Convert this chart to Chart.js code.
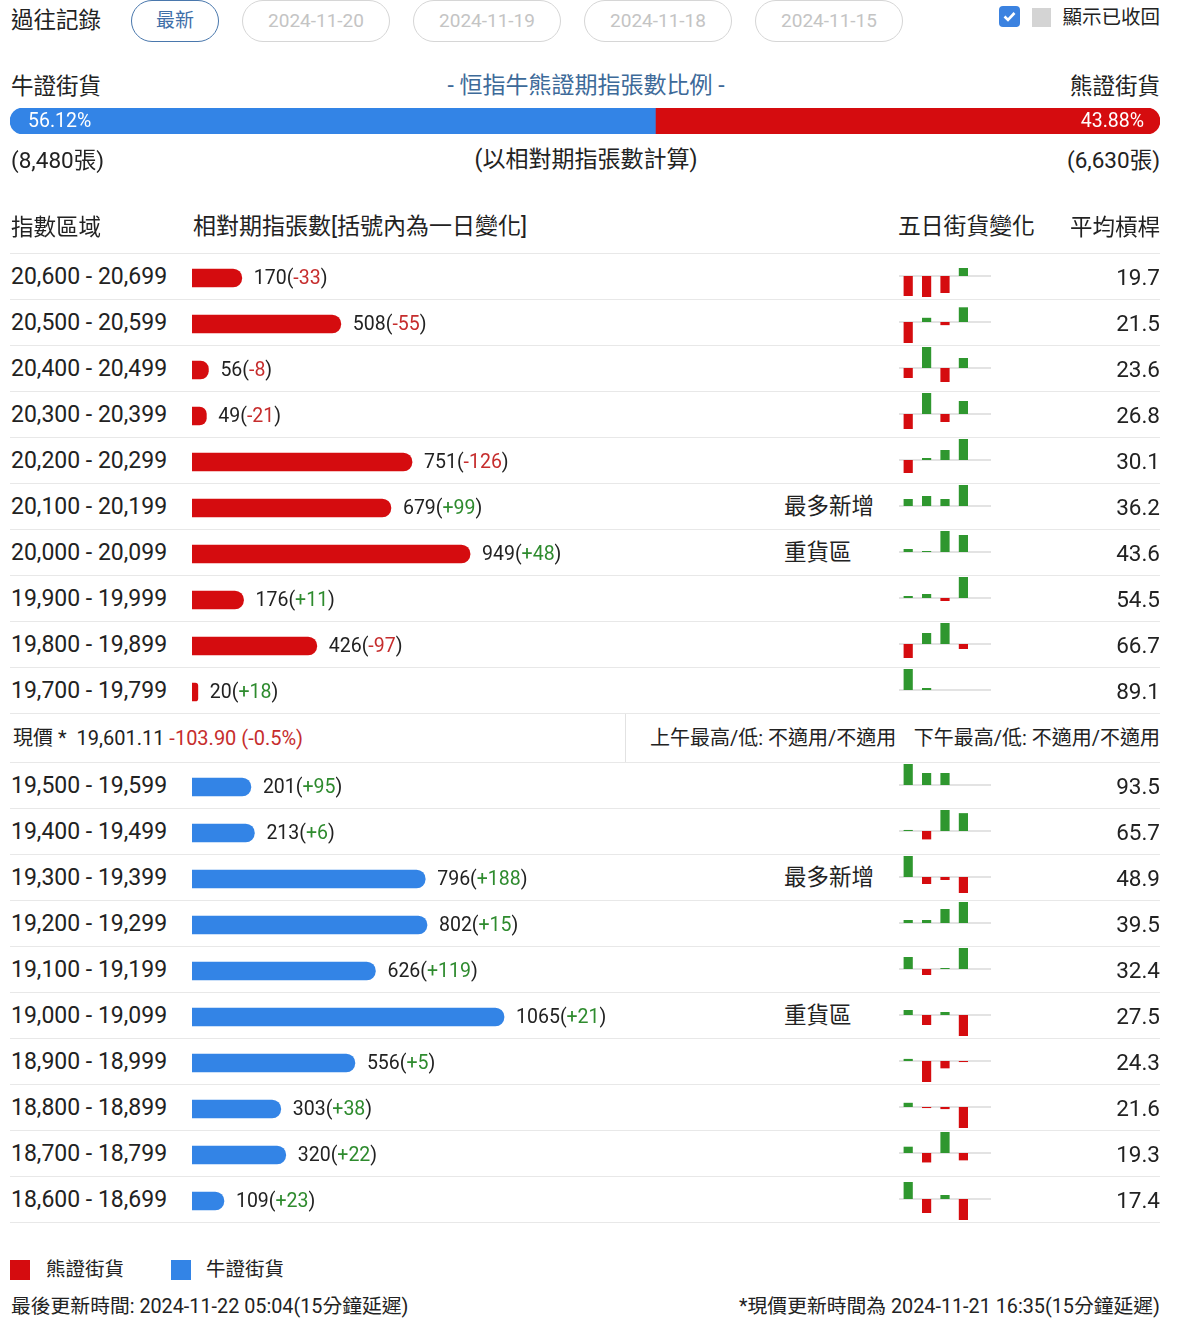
<!DOCTYPE html>
<html>
<head>
<meta charset="utf-8">
<title>恒指牛熊證街貨分佈</title>
<script src="https://cdn.jsdelivr.net/npm/chart.js@4.4.1/dist/chart.umd.min.js"></script>
<style>
body { margin: 0; background: #fff; font-family: Roboto, "Noto Sans CJK TC", sans-serif; color: #222; }
#page { position: relative; width: 1179px; height: 1330px; overflow: hidden; }
.t { position: absolute; white-space: nowrap; height: 30px; line-height: 30px; }
.r { text-align: right; }
.btn { position: absolute; top: 0; height: 40px; line-height: 40px; border: 1px solid #d6d6d6; border-radius: 21px;
       color: #c4c4c4; font-size: 19px; text-align: center; box-sizing: content-box; }
.btn.on { border-color: #4a78ad; color: #3f6fa8; }
.sep { position: absolute; left: 10px; width: 1150px; height: 1px; background: #e8e8e8; }
.red { color: #c62d2d; }
canvas { position: absolute; }
</style>
</head>
<body>
<div id="page">
  <div class="t" style="left:11px;top:5px;font-size:22.5px;">過往記錄</div>
  <div class="btn on" style="left:131px;width:86px;">最新</div>
  <div class="btn" style="left:242px;width:146px;">2024-11-20</div>
  <div class="btn" style="left:413px;width:146px;">2024-11-19</div>
  <div class="btn" style="left:584px;width:146px;">2024-11-18</div>
  <div class="btn" style="left:755px;width:146px;">2024-11-15</div>
  <div style="position:absolute;left:999px;top:6px;width:21px;height:21px;border-radius:4px;background:#3b82e0;">
    <svg width="21" height="21" viewBox="0 0 21 21"><path d="M5.5 10.5 L9 14 L15.5 7" fill="none" stroke="#fff" stroke-width="2.6"/></svg>
  </div>
  <div style="position:absolute;left:1032px;top:8px;width:19px;height:19px;background:#d4d4d4;"></div>
  <div class="t r" style="right:19px;top:3px;font-size:19.5px;">顯示已收回</div>

  <div class="t" style="left:11px;top:71px;font-size:22.5px;">牛證街貨</div>
  <div class="t" style="left:386px;width:400px;text-align:center;top:71px;font-size:23px;color:#3d6a99;">- 恒指牛熊證期指張數比例 -</div>
  <div class="t r" style="right:19px;top:71px;font-size:22.5px;">熊證街貨</div>

  <canvas id="ratioChart" width="1150" height="26" style="left:10px;top:108px;"></canvas>
  <div class="t" style="left:28px;top:106px;font-size:19.5px;color:#fff;">56.12%</div>
  <div class="t r" style="right:35px;top:106px;font-size:19.5px;color:#fff;">43.88%</div>

  <div class="t" style="left:11px;top:145px;font-size:22.5px;">(8,480張)</div>
  <div class="t" style="left:386px;width:400px;text-align:center;top:145px;font-size:23px;">(以相對期指張數計算)</div>
  <div class="t r" style="right:19px;top:145px;font-size:22.5px;">(6,630張)</div>

  <div class="t" style="left:11px;top:212px;font-size:22.5px;">指數區域</div>
  <div class="t" style="left:193px;top:212px;font-size:23px;">相對期指張數[括號內為一日變化]</div>
  <div class="t" style="left:898px;top:212px;font-size:22.8px;">五日街貨變化</div>
  <div class="t r" style="right:19px;top:212px;font-size:22.5px;">平均槓桿</div>

  <canvas id="bearChart" width="586" height="460" style="left:192px;top:255px;"></canvas>

  <div class="t" style="left:13px;top:723px;font-size:20px;">現價 *&nbsp; 19,601.11 <span class="red">-103.90 (-0.5%)</span></div>
  <div style="position:absolute;left:625px;top:713px;width:1px;height:49px;background:#e2e2e2;"></div>
  <div class="t" style="left:650px;top:723px;font-size:20px;">上午最高/低: 不適用/不適用</div>
  <div class="t r" style="right:19px;top:723px;font-size:20px;">下午最高/低: 不適用/不適用</div>

  <canvas id="bullChart" width="586" height="460" style="left:192px;top:764px;"></canvas>

  <div style="position:absolute;left:10px;top:1260px;width:20px;height:20px;background:#d50c0f;"></div>
  <div class="t" style="left:46px;top:1255px;font-size:19.5px;">熊證街貨</div>
  <div style="position:absolute;left:171px;top:1260px;width:20px;height:20px;background:#3384e6;"></div>
  <div class="t" style="left:206px;top:1255px;font-size:19.5px;">牛證街貨</div>

  <div class="t" style="left:11px;top:1292px;font-size:19.8px;">最後更新時間: 2024-11-22 05:04(15分鐘延遲)</div>
  <div class="t r" style="right:19px;top:1292px;font-size:19.8px;">*現價更新時間為 2024-11-21 16:35(15分鐘延遲)</div>
</div>

<script>
"use strict";

// bear side (above current price)
var bearRanges = ['20,600 - 20,699', '20,500 - 20,599', '20,400 - 20,499', '20,300 - 20,399', '20,200 - 20,299',
                  '20,100 - 20,199', '20,000 - 20,099', '19,900 - 19,999', '19,800 - 19,899', '19,700 - 19,799'];
var bearCounts = [170, 508, 56, 49, 751, 679, 949, 176, 426, 20];
var bearChanges = [-33, -55, -8, -21, -126, 99, 48, 11, -97, 18];
var bearLeverage = ['19.7', '21.5', '23.6', '26.8', '30.1', '36.2', '43.6', '54.5', '66.7', '89.1'];
var bearTags = ['', '', '', '', '', '最多新增', '重貨區', '', '', ''];
var bearFiveDay = [
    [-20, -21, -17, 8, null],
    [-20, 4, -3, 14, null],
    [-10, 21, -14, 10, null],
    [-15, 21, -8, 13, null],
    [-13, 2, 10, 21, null],
    [7, 10, 7, 21, null],
    [3, 1, 21, 17, null],
    [2, 4, -3, 21, null],
    [-14, 11, 21, -5, null],
    [21, 2, null, null, null]
];

// bull side (below current price)
var bullRanges = ['19,500 - 19,599', '19,400 - 19,499', '19,300 - 19,399', '19,200 - 19,299', '19,100 - 19,199',
                  '19,000 - 19,099', '18,900 - 18,999', '18,800 - 18,899', '18,700 - 18,799', '18,600 - 18,699'];
var bullCounts = [201, 213, 796, 802, 626, 1065, 556, 303, 320, 109];
var bullChanges = [95, 6, 188, 15, 119, 21, 5, 38, 22, 23];
var bullLeverage = ['93.5', '65.7', '48.9', '39.5', '32.4', '27.5', '24.3', '21.6', '19.3', '17.4'];
var bullTags = ['', '', '最多新增', '', '', '重貨區', '', '', '', ''];
var bullFiveDay = [
    [21, 12, 12, null, null],
    [1, -8, 20, 17, null],
    [21, -7, -3, -16, null],
    [3, 3, 14, 21, null],
    [12, -6, 1, 21, null],
    [5, -10, 3, -21, null],
    [2, -20, -7, -1, null],
    [4, -1, -2, -20, null],
    [6, -9, 20, -7, null],
    [17, -14, 4, -21, null]
];

var dayLabels = ['1', '2', '3', '4', '5'];
var ratioLabels = ['牛證街貨', '熊證街貨'];
var ratioValues = [56.12, 43.88];

var RED = '#d50c0f', BLUE = '#3384e6', GREEN = '#2f972f';
var TXT_RED = '#c62d2d', TXT_GREEN = '#2e8b2e';
var ROW_H = 46;
var page = document.getElementById('page');

function addText(txt, css) {
    var d = document.createElement('div');
    d.className = 't';
    d.textContent = txt;
    d.style.cssText = css;
    page.appendChild(d);
}

function fmtChange(v) {
    return (v > 0 ? '+' : '') + v;
}

function miniChart(left, top, values) {
    var c = document.createElement('canvas');
    c.width = 92;
    c.height = 42;
    c.style.left = left + 'px';
    c.style.top = top + 'px';
    page.appendChild(c);
    var m = 0;
    values.forEach(function (v) { if (v !== null && Math.abs(v) > m) m = Math.abs(v); });
    new Chart(c, {
        type: 'bar',
        data: {
            labels: dayLabels,
            datasets: [{
                data: values,
                backgroundColor: values.map(function (v) { return v < 0 ? RED : GREEN; }),
                barPercentage: 0.5,
                categoryPercentage: 1
            }]
        },
        options: {
            responsive: false,
            animation: false,
            events: [],
            layout: { padding: 0 },
            plugins: { legend: { display: false }, tooltip: { enabled: false } },
            scales: {
                x: { display: false },
                y: { display: false, min: -m, max: m }
            }
        },
        plugins: [{
            id: 'zeroLine',
            beforeDatasetsDraw: function (chart) {
                var ctx = chart.ctx, a = chart.chartArea;
                var y0 = chart.scales.y.getPixelForValue(0);
                ctx.save();
                ctx.strokeStyle = '#e3e3e3';
                ctx.lineWidth = 2;
                ctx.beginPath();
                ctx.moveTo(a.left, y0);
                ctx.lineTo(a.right, y0);
                ctx.stroke();
                ctx.restore();
            }
        }]
    });
}

function buildRows(top, ranges, leverage, tags, fiveDay) {
    for (var i = 0; i < ranges.length; i++) {
        var cy = top + i * ROW_H + 24;
        addText(ranges[i], 'left:11px;top:' + (cy - 15) + 'px;font-size:23px;');
        addText(leverage[i], 'right:19px;text-align:right;top:' + (cy - 15) + 'px;font-size:22.5px;');
        if (tags[i]) addText(tags[i], 'left:784px;top:' + (cy - 16) + 'px;font-size:22.5px;');
        miniChart(899, cy - 22, fiveDay[i]);
    }
    for (var k = 0; k <= ranges.length; k++) {
        var s = document.createElement('div');
        s.className = 'sep';
        s.style.top = (top + k * ROW_H) + 'px';
        page.appendChild(s);
    }
}

function countChart(id, ranges, counts, changes, color) {
    new Chart(document.getElementById(id), {
        type: 'bar',
        data: {
            labels: ranges,
            datasets: [{
                data: counts,
                backgroundColor: color,
                barThickness: 18,
                borderRadius: 9
            }]
        },
        options: {
            indexAxis: 'y',
            responsive: false,
            animation: false,
            events: [],
            layout: { padding: 0 },
            plugins: { legend: { display: false }, tooltip: { enabled: false } },
            scales: {
                x: { display: false, min: 0, max: 2000 },
                y: { display: false }
            }
        },
        plugins: [{
            id: 'countLabels',
            afterDatasetsDraw: function (chart) {
                var ctx = chart.ctx;
                ctx.save();
                ctx.font = '19.5px Roboto';
                ctx.textBaseline = 'middle';
                chart.getDatasetMeta(0).data.forEach(function (bar, i) {
                    var x = bar.x + 12;
                    var parts = [
                        [counts[i] + '(', '#222'],
                        [fmtChange(changes[i]), changes[i] < 0 ? TXT_RED : TXT_GREEN],
                        [')', '#222']
                    ];
                    parts.forEach(function (p) {
                        ctx.fillStyle = p[1];
                        ctx.fillText(p[0], x, bar.y + 1);
                        x += ctx.measureText(p[0]).width;
                    });
                });
                ctx.restore();
            }
        }]
    });
}

new Chart(document.getElementById('ratioChart'), {
    type: 'bar',
    data: {
        labels: [''],
        datasets: [
            { label: ratioLabels[0], data: [ratioValues[0]], backgroundColor: BLUE, borderSkipped: false,
              borderRadius: { topLeft: 13, bottomLeft: 13, topRight: 0, bottomRight: 0 } },
            { label: ratioLabels[1], data: [ratioValues[1]], backgroundColor: RED, borderSkipped: false,
              borderRadius: { topLeft: 0, bottomLeft: 0, topRight: 13, bottomRight: 13 } }
        ]
    },
    options: {
        indexAxis: 'y',
        responsive: false,
        animation: false,
        events: [],
        layout: { padding: 0 },
        datasets: { bar: { barPercentage: 1, categoryPercentage: 1 } },
        plugins: { legend: { display: false }, tooltip: { enabled: false } },
        scales: {
            x: { display: false, stacked: true, min: 0, max: 100 },
            y: { display: false, stacked: true }
        }
    }
});

buildRows(253, bearRanges, bearLeverage, bearTags, bearFiveDay);
buildRows(762, bullRanges, bullLeverage, bullTags, bullFiveDay);
countChart('bearChart', bearRanges, bearCounts, bearChanges, RED);
countChart('bullChart', bullRanges, bullCounts, bullChanges, BLUE);
</script>
</body>
</html>
